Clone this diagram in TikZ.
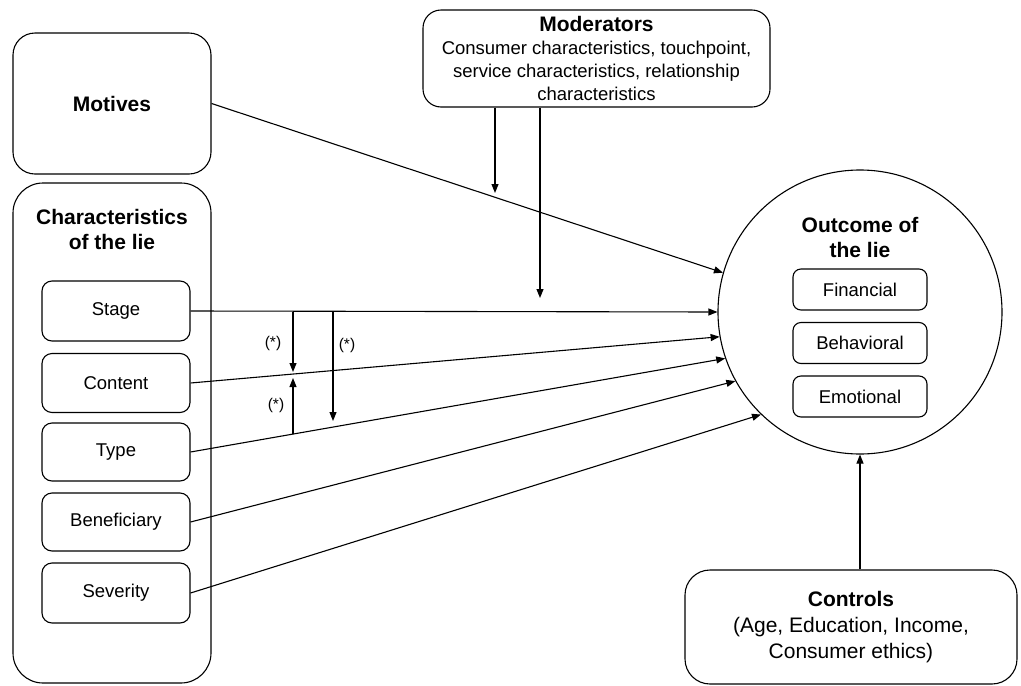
\documentclass[tikz,border=0pt]{standalone}
\usepackage{fontspec}
\setmainfont{Liberation Sans}
\usetikzlibrary{arrows.meta}

\begin{document}
\begin{tikzpicture}[x=1pt,y=-1pt,
  box/.style={draw,line width=1.1pt,rounded corners=#1,align=center,inner sep=0pt},
  box/.default=10pt,
  arr/.style={-{Triangle[length=9pt,width=7pt]},line width=1.1pt},
  lbl/.style={font=\fontsize{18.5}{23}\selectfont},
  hd/.style={font=\fontsize{21}{25}\selectfont\bfseries,align=center},
  star/.style={font=\fontsize{15.5}{17}\selectfont}]
\useasboundingbox (0,0) rectangle (1021,686);

% left column
\node[box=22pt,hd,minimum width=198pt,minimum height=141pt] (motives) at (112,103.5) {Motives};
\node[box=30pt,minimum width=198pt,minimum height=500pt] (chars) at (112,433) {};
\node[hd] (charshead) at (112,229) {Characteristics\\of the lie};

\node[box,lbl,minimum width=148pt,minimum height=60pt] (stage) at (116,311) {Stage};
\node[box,lbl,minimum width=148pt,minimum height=59pt] (content) at (116,383) {Content};
\node[box,lbl,minimum width=148pt,minimum height=58pt] (type) at (116,452) {Type};
\node[box,lbl,minimum width=148pt,minimum height=58pt] (benef) at (116,522) {Beneficiary};
\node[box,lbl,minimum width=148pt,minimum height=60pt] (sev) at (116,593) {Severity};

% moderators
\node[box=18pt,lbl,minimum width=347pt,minimum height=97pt] (mod) at (596.5,58.5)
  {{\fontsize{21}{23}\selectfont\bfseries Moderators}\\Consumer characteristics, touchpoint,\\service characteristics, relationship\\characteristics};

% outcome
\node[draw,circle,line width=1.1pt,minimum size=284pt] (out) at (860,312) {};
\node[hd] (outhead) at (860,237) {Outcome of\\the lie};
\node[box=8pt,lbl,minimum width=134pt,minimum height=41pt] (fin) at (860,289.5) {Financial};
\node[box=8pt,lbl,minimum width=134pt,minimum height=41pt] (beh) at (860,343) {Behavioral};
\node[box=8pt,lbl,minimum width=134pt,minimum height=41pt] (emo) at (860,396.5) {Emotional};

% controls
\node[box=25pt,minimum width=332pt,minimum height=114pt,font=\fontsize{21}{26}\selectfont] (ctrl) at (851,627)
  {\textbf{Controls}\\(Age, Education, Income,\\Consumer ethics)};

% main arrows
\draw[arr] (motives.east) -- (out.164.5);
\draw[arr] (stage.east) -- (out.180);
\draw[arr] (content.east) -- (out.190);
\draw[arr] (type.east) -- (out.199);
\draw[arr] (benef.east) -- (out.209);
\draw[arr] (sev.east) -- (out.226);
\draw[arr] (out.south |- ctrl.north) -- (out.south);

% moderating arrows
\coordinate (m1) at (495,193);
\coordinate (m2) at (540,298);
\draw[arr] (mod.south -| m1) -- (m1);
\draw[arr] (mod.south -| m2) -- (m2);

% interaction arrows
\coordinate (s1) at (293,312);
\coordinate (s1e) at (293,372);
\coordinate (s2) at (333,312);
\coordinate (s2e) at (333,421);
\coordinate (s3) at (293,434);
\coordinate (s3e) at (293,378);
\draw[arr] (s1) -- (s1e);
\draw[arr] (s2) -- (s2e);
\draw[arr] (s3) -- (s3e);

\node[star] (st1) at (273,343) {(*)};
\node[star] (st2) at (347,345) {(*)};
\node[star] (st3) at (276,405) {(*)};
\end{tikzpicture}
\end{document}
